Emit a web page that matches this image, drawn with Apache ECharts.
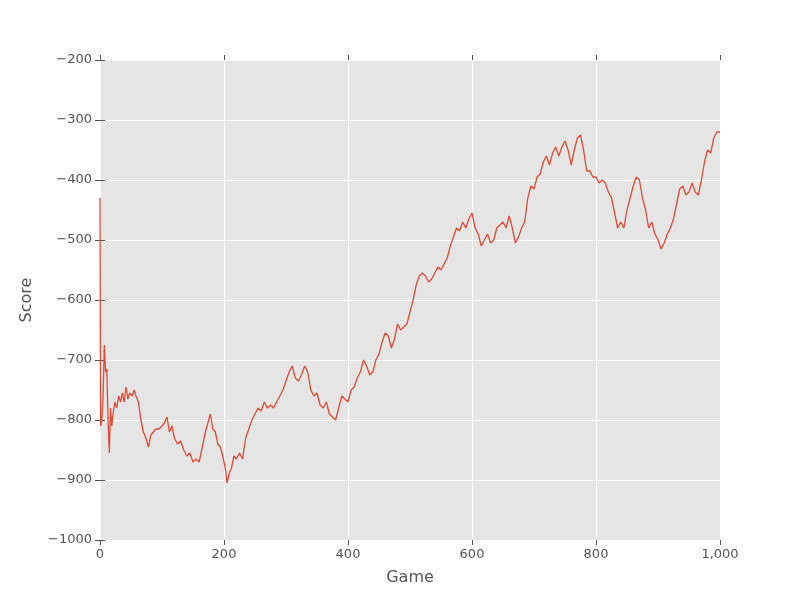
<!DOCTYPE html>
<html>
<head>
<meta charset="utf-8">
<script src="https://cdn.jsdelivr.net/npm/echarts@6/dist/echarts.min.js"></script>
<style>html,body{margin:0;background:#fff}#c{width:800px;height:600px}</style>
</head>
<body>
<div id="c"></div>
<script>
// game number and running score
const games = [0,1,3,5,7,9,11,13,15,17,19,21,24,27,30,33,36,39,42,45,48,52,55,58,62,66,70,74,78,82,86,90,95,100,104,108,112,116,120,125,130,135,140,145,150,155,160,165,170,174,178,182,186,190,194,198,202,205,208,212,216,220,225,230,235,240,245,250,255,260,265,270,275,280,285,290,295,300,305,310,315,320,325,330,335,340,345,350,355,360,365,370,375,380,385,390,395,400,405,410,415,420,425,430,435,440,445,450,455,460,465,470,475,480,485,490,495,500,505,510,515,520,525,530,535,540,545,550,555,560,565,570,575,580,585,590,595,600,605,610,615,620,625,630,635,640,645,650,655,660,665,670,675,680,685,690,695,700,705,710,715,720,725,730,735,740,745,750,755,760,765,770,775,780,785,790,795,800,805,810,815,820,825,830,835,840,845,850,855,860,865,870,875,880,885,890,895,900,905,910,915,920,925,930,935,940,945,950,955,960,965,970,975,980,985,990,995,1000];
const scores = [-430,-810,-800,-760,-675,-720,-715,-800,-855,-780,-810,-790,-770,-780,-760,-770,-755,-770,-745,-765,-755,-760,-750,-760,-770,-800,-820,-830,-845,-825,-820,-815,-815,-810,-805,-795,-820,-810,-830,-840,-835,-850,-860,-855,-870,-865,-870,-845,-820,-805,-790,-815,-820,-840,-845,-860,-880,-905,-890,-880,-860,-865,-855,-865,-830,-815,-800,-790,-780,-785,-770,-780,-775,-780,-770,-760,-750,-735,-720,-710,-730,-735,-725,-710,-720,-750,-760,-755,-775,-780,-770,-790,-795,-800,-780,-760,-765,-770,-750,-745,-730,-720,-700,-710,-725,-720,-700,-690,-670,-655,-660,-680,-665,-640,-650,-645,-640,-620,-600,-575,-560,-555,-560,-570,-565,-555,-545,-550,-540,-530,-510,-495,-480,-485,-470,-480,-465,-455,-480,-490,-510,-500,-490,-505,-500,-480,-475,-470,-480,-460,-480,-505,-495,-480,-470,-430,-410,-415,-395,-390,-370,-360,-375,-355,-345,-360,-345,-335,-350,-375,-350,-330,-325,-350,-385,-385,-395,-395,-405,-400,-405,-420,-430,-455,-480,-470,-480,-450,-430,-410,-395,-400,-430,-450,-480,-470,-490,-500,-515,-505,-490,-480,-465,-440,-415,-410,-425,-420,-405,-420,-425,-400,-370,-350,-355,-330,-320,-320];

const data = games.map((g, i) => [g, scores[i]]);
const txt = { color: '#555', fontSize: 13, fontFamily: 'DejaVu Sans' };
const chart = echarts.init(document.getElementById('c'));
chart.setOption({
  animation: false,
  grid: { left: 100, right: 80, top: 60, bottom: 60, show: true, backgroundColor: '#e5e5e5', borderWidth: 0 },
  xAxis: [{
    type: 'value', min: 0, max: 1000, interval: 200,
    name: 'Game', nameLocation: 'middle', nameGap: 30,
    nameTextStyle: { color: '#555', fontSize: 16, fontFamily: 'DejaVu Sans' },
    axisLine: { show: false },
    axisTick: { show: true, length: 5, lineStyle: { color: '#555' } },
    axisLabel: txt,
    splitLine: { lineStyle: { color: '#fff', width: 1 } }
  }, {
    type: 'value', position: 'top', min: 0, max: 1000, interval: 200,
    axisLine: { show: false }, axisLabel: { show: false },
    axisTick: { show: true, length: 5, lineStyle: { color: '#555' } },
    splitLine: { show: false }
  }],
  yAxis: [{
    type: 'value', min: -1000, max: -200, interval: 100,
    name: 'Score', nameLocation: 'middle', nameGap: 65,
    nameTextStyle: { color: '#555', fontSize: 16, fontFamily: 'DejaVu Sans' },
    axisLine: { show: false },
    axisTick: { show: true, length: 5, lineStyle: { color: '#555' } },
    axisLabel: { ...txt, formatter: v => String(v).replace('-', '\u2212') },
    splitLine: { lineStyle: { color: '#fff', width: 1 } }
  }, {
    type: 'value', position: 'right', min: -1000, max: -200, interval: 100,
    axisLine: { show: false }, axisLabel: { show: false },
    axisTick: { show: true, length: 5, lineStyle: { color: '#555' } },
    splitLine: { show: false }
  }],
  series: [{
    type: 'line', data: data, showSymbol: false,
    lineStyle: { color: '#e24a33', width: 1.3 }
  }]
});
</script>
</body>
</html>
